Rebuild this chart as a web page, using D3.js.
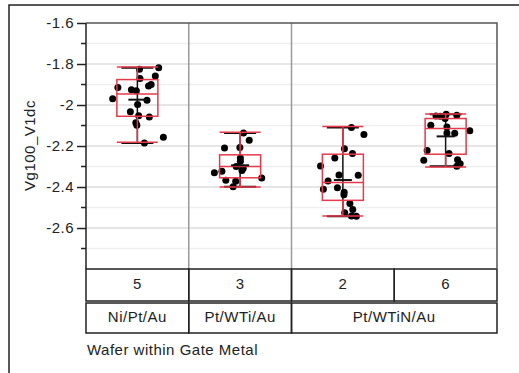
<!DOCTYPE html>
<html lang="en">
<head>
    <meta charset="UTF-8">
    <title>Variability chart</title>
    <script src="https://d3js.org/d3.v7.min.js"></script>
</head>
<style>
    html,body {
        margin: 0;
        padding: 0;
        background: #fff;
    }
    text {
        font-family: "Liberation Sans", Arial, sans-serif;
        fill: #222;
        letter-spacing: 0.5px;
    }
</style>
<body>
    <div id="svg"></div>
</body>
<script>
    // categories
    const wafers = ['5', '3', '2', '6'];
    const metals = ['Ni/Pt/Au', 'Pt/WTi/Au', 'Pt/WTiN/Au'];
    const metalOfWafer = [0, 1, 2, 2];
    const yTicks = [-1.6, -1.8, -2, -2.2, -2.4, -2.6];

    const w5Values = [-1.818, -1.826, -1.871, -1.858, -1.900, -1.907, -1.914, -1.925, -1.930, -1.970,
                      -1.977, -1.998, -2.033, -2.059, -2.053, -2.087, -2.099, -2.157, -2.185];
    const w3Values = [-2.136, -2.172, -2.210, -2.207, -2.258, -2.274, -2.300, -2.309, -2.331, -2.323,
                      -2.319, -2.356, -2.367, -2.372, -2.399];
    const w2Values = [-2.110, -2.144, -2.213, -2.237, -2.259, -2.298, -2.341, -2.343, -2.371, -2.411,
                      -2.403, -2.426, -2.438, -2.480, -2.510, -2.525, -2.541, -2.543];
    const w6Values = [-2.045, -2.054, -2.055, -2.050, -2.066, -2.099, -2.107, -2.126, -2.138, -2.136,
                      -2.222, -2.236, -2.270, -2.267, -2.286, -2.299];
    // jitter of each point (-1..1), same order as the values
    const w5Jitter = [0.82, 0.08, 0.10, 0.69, 0.53, 0.43, -0.75, -0.23, -0.04, -0.95,
                      0.37, 0.01, -0.27, 0.46, 0.05, -0.06, -0.02, 1.00, 0.27];
    const w3Jitter = [0.13, 0.35, -0.60, -0.01, 0.01, 0.01, -0.15, 0.12, -0.99, -0.70,
                      0.07, 0.83, -0.55, -0.17, -0.27];
    const w2Jitter = [0.33, 0.81, 0.06, 0.37, -0.31, -0.86, -0.15, 0.59, -0.57, -0.75,
                      -0.21, 0.05, 0.04, 0.27, 0.38, 0.07, 0.33, 0.52];
    const w6Jitter = [0.02, -0.37, -0.21, 0.43, -0.02, -0.57, 0.05, 0.93, 0.35, 0.05,
                      -0.71, 0.13, -0.84, 0.46, 0.56, 0.43];

    // box plot summaries per wafer
    const q3s = [-1.876, -2.243, -2.240, -2.066];
    const medians = [-1.946, -2.300, -2.378, -2.115];
    const q1s = [-2.055, -2.355, -2.465, -2.240];
    const whiskerHi = [-1.815, -2.133, -2.105, -2.044];
    const whiskerLo = [-2.182, -2.400, -2.541, -2.302];
    const means = [-1.974, -2.294, -2.366, -2.153];

    const allValues = [w5Values, w3Values, w2Values, w6Values];
    const allJitter = [w5Jitter, w3Jitter, w2Jitter, w6Jitter];

    const width = 519;
    const height = 373;
    const plot = {left: 86, top: 23, right: 497, bottom: 268};
    const red = '#e8394a';
    const fontSize = 15;

    const x = d3.scaleBand().domain(wafers).range([plot.left, plot.right]);
    const y = d3.scaleLinear().domain([-2.795, -1.6]).range([plot.bottom, plot.top]);
    const jitter = d3.scaleLinear().domain([-1, 1]).range([-26, 26]);
    const cx = w => x(w) + x.bandwidth() / 2;

    const svg = d3.select('#svg').append('svg')
        .attr('width', width)
        .attr('height', height);

    // outer frame
    svg.append('path')
        .attr('d', `M9,${height}V5H${width}`)
        .attr('fill', 'none')
        .attr('stroke', '#222')
        .attr('stroke-width', 1.5);

    // grid lines every 0.1
    const gridVals = d3.range(-1.7, -2.75, -0.1).map(v => +v.toFixed(1));
    svg.append('g').selectAll('line').data(gridVals).enter().append('line')
        .attr('x1', plot.left).attr('x2', plot.right)
        .attr('y1', d => y(d)).attr('y2', d => y(d))
        .attr('stroke', d => Math.round(d * 10) % 2 === 0 ? '#dcdcdc' : '#efefef')
        .attr('stroke-width', 1.5);

    // group separators inside the plot
    const sepX = [x('3'), x('2')];
    svg.append('g').selectAll('line').data(sepX).enter().append('line')
        .attr('x1', d => d).attr('x2', d => d)
        .attr('y1', plot.top).attr('y2', plot.bottom)
        .attr('stroke', '#9a9a9a')
        .attr('stroke-width', 1.5);

    // plot border
    svg.append('path')
        .attr('d', `M${plot.left},${plot.top}H${plot.right}V${plot.bottom}`)
        .attr('fill', 'none')
        .attr('stroke', '#555')
        .attr('stroke-width', 1.5);

    // y axis with minor ticks
    const minorTicks = d3.range(-1.7, -2.75, -0.2).map(v => +v.toFixed(1));
    svg.append('g').selectAll('line').data(minorTicks).enter().append('line')
        .attr('x1', plot.left - 5).attr('x2', plot.left)
        .attr('y1', d => y(d)).attr('y2', d => y(d))
        .attr('stroke', '#222').attr('stroke-width', 1.5);
    const gY = svg.append('g').attr('transform', `translate(${plot.left},0)`)
        .call(d3.axisLeft(y).tickValues(yTicks).tickFormat(d => d).tickSize(9).tickPadding(3));
    gY.select('.domain').remove();
    gY.selectAll('.tick line').attr('stroke', '#222').attr('stroke-width', 1.5);
    gY.selectAll('.tick text').attr('font-size', fontSize).attr('fill', '#222')
        .attr('font-family', '"Liberation Sans", Arial, sans-serif');
    svg.append('line')
        .attr('x1', plot.left).attr('x2', plot.left)
        .attr('y1', plot.top).attr('y2', plot.bottom + 1)
        .attr('stroke', '#222').attr('stroke-width', 1.5);

    svg.append('text')
        .attr('transform', `translate(35,${(plot.top + plot.bottom) / 2}) rotate(-90)`)
        .attr('text-anchor', 'middle')
        .attr('font-size', fontSize)
        .text('Vg100_V1dc');

    // per wafer marks
    wafers.forEach((w, i) => {
        const c = cx(w);
        const g = svg.append('g');
        const ext = d3.extent(allValues[i]);

        // black range bar
        g.append('line')
            .attr('x1', c).attr('x2', c)
            .attr('y1', y(ext[1])).attr('y2', y(ext[0]))
            .attr('stroke', '#111').attr('stroke-width', 1.5);
        g.selectAll('.cap').data(ext).enter().append('line')
            .attr('x1', c - 16).attr('x2', c + 16)
            .attr('y1', d => y(d)).attr('y2', d => y(d))
            .attr('stroke', '#111').attr('stroke-width', 2);

        // points
        g.selectAll('circle').data(allValues[i]).enter().append('circle')
            .attr('cx', (d, j) => c + jitter(allJitter[i][j]))
            .attr('cy', d => y(d))
            .attr('r', 3.5)
            .attr('fill', '#000');

        // red box plot
        const bw = 41;
        g.append('rect')
            .attr('x', c - bw / 2).attr('width', bw)
            .attr('y', y(q3s[i])).attr('height', y(q1s[i]) - y(q3s[i]))
            .attr('fill', 'none').attr('stroke', red).attr('stroke-width', 1.5);
        g.append('line')
            .attr('x1', c - bw / 2).attr('x2', c + bw / 2)
            .attr('y1', y(medians[i])).attr('y2', y(medians[i]))
            .attr('stroke', red).attr('stroke-width', 1.5);
        [[q3s[i], whiskerHi[i]], [q1s[i], whiskerLo[i]]].forEach(pair => {
            g.append('line')
                .attr('x1', c).attr('x2', c)
                .attr('y1', y(pair[0])).attr('y2', y(pair[1]))
                .attr('stroke', red).attr('stroke-width', 1.5);
            g.append('line')
                .attr('x1', c - bw / 2).attr('x2', c + bw / 2)
                .attr('y1', y(pair[1])).attr('y2', y(pair[1]))
                .attr('stroke', red).attr('stroke-width', 1.5);
        });

        // mean
        g.append('line')
            .attr('x1', c - 9).attr('x2', c + 9)
            .attr('y1', y(means[i])).attr('y2', y(means[i]))
            .attr('stroke', '#111').attr('stroke-width', 2);
    });

    // category table: wafer row
    const row1 = {top: 269, bottom: 301};
    const row2 = {top: 303, bottom: 333};
    const table = svg.append('g');
    table.selectAll('.wafer').data(wafers).enter().append('rect')
        .attr('x', d => x(d)).attr('width', x.bandwidth())
        .attr('y', row1.top).attr('height', row1.bottom - row1.top)
        .attr('fill', 'none').attr('stroke', '#222').attr('stroke-width', 1.5);
    table.selectAll('.waferLabel').data(wafers).enter().append('text')
        .attr('x', d => cx(d)).attr('y', 289)
        .attr('text-anchor', 'middle').attr('font-size', fontSize)
        .text(d => d);

    // metal row spans its wafers
    const metalSpans = metals.map((m, k) => {
        const ws = wafers.filter((w, i) => metalOfWafer[i] === k);
        return {name: m, x0: x(ws[0]), x1: x(ws[ws.length - 1]) + x.bandwidth()};
    });
    table.selectAll('.metal').data(metalSpans).enter().append('rect')
        .attr('x', d => d.x0).attr('width', d => d.x1 - d.x0)
        .attr('y', row2.top).attr('height', row2.bottom - row2.top)
        .attr('fill', 'none').attr('stroke', '#222').attr('stroke-width', 1.5);
    table.selectAll('.metalLabel').data(metalSpans).enter().append('text')
        .attr('x', d => (d.x0 + d.x1) / 2).attr('y', 322)
        .attr('text-anchor', 'middle').attr('font-size', fontSize)
        .text(d => d.name);

    svg.append('text')
        .attr('x', plot.left + 1).attr('y', 355)
        .attr('font-size', fontSize)
        .text('Wafer within Gate Metal');
</script>
</html>
